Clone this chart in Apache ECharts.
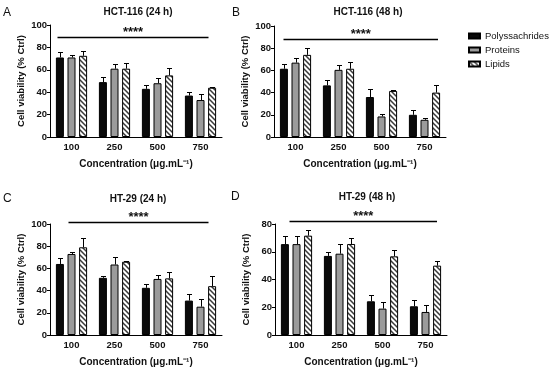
<!DOCTYPE html>
<html><head><meta charset="utf-8">
<script src="https://cdn.jsdelivr.net/npm/echarts@6/dist/echarts.min.js"></script>
<style>html,body{margin:0;padding:0;background:#fff}#c{width:550px;height:370px}</style>
</head><body><div id="c"></div>
<script>
// ---- data ----
const categories = ['100', '250', '500', '750'];
const seriesNames = ['Polyssachrides', 'Proteins', 'Lipids'];
const panelTitles = ['HCT-116 (24 h)', 'HCT-116 (48 h)', 'HT-29 (24 h)', 'HT-29 (48 h)'];
const panelLetters = ['A', 'B', 'C', 'D'];
const yMax = [100, 100, 100, 80];

const A_poly = [71, 49, 43, 37],      A_poly_err = [5, 4.5, 3, 3.5];
const A_prot = [71, 61, 48, 33],      A_prot_err = [2.5, 4.5, 5, 5];
const A_lip  = [72.5, 61, 55, 44],    A_lip_err  = [4.5, 5.5, 6.5, 0.5];

const B_poly = [61.5, 46.5, 36, 20],  B_poly_err = [4.5, 5, 7, 4];
const B_prot = [67, 60.5, 18.5, 15.5],B_prot_err = [4.5, 4.5, 2.5, 1.5];
const B_lip  = [74, 61.5, 41.5, 40],  B_lip_err  = [6, 6.5, 0.5, 7];

const C_poly = [64, 51.5, 42.5, 31],  C_poly_err = [5.5, 2, 3.5, 6];
const C_prot = [73, 63.5, 50.5, 25.5],C_prot_err = [2, 7, 4, 7];
const C_lip  = [79, 66, 51, 44],      C_lip_err  = [8.5, 1, 5.5, 9];

const D_poly = [65.5, 57, 24.3, 20.7],D_poly_err = [5.5, 3, 4.8, 4.3];
const D_prot = [65.5, 58.6, 19, 16.6],D_prot_err = [6, 7, 4.8, 5.3];
const D_lip  = [71.6, 65.6, 56.7, 50],D_lip_err  = [4, 4.4, 4.8, 3];

const sigLevel = [89, 88, 102, 82];
const sigText = '****';

// ---- layout/styles ----
const FONT = '"Liberation Sans", Arial, sans-serif';
const grids = [
  {left: 50, top: 25, width: 172, height: 112},
  {left: 274, top: 26, width: 172, height: 111},
  {left: 50, top: 224, width: 172, height: 111},
  {left: 275, top: 224, width: 172, height: 111}
];
const sigOffsets = [[-14, 8], [-12, 13.5], [-3, 8], [-7, 11.5]];
const titlePos = [[133, 2], [363, 2], [133, 189], [362, 187]];
const letterPos = [[3, 7], [232, 7], [3, 193], [231, 191]];
const BAR_W = 8, BAR_STEP = 11.6;

function hatch() {
  const s = 5, cv = document.createElement('canvas');
  cv.width = s; cv.height = s;
  const g = cv.getContext('2d');
  g.fillStyle = '#fff'; g.fillRect(0, 0, s, s);
  g.strokeStyle = '#3a3a3a'; g.lineWidth = 1.5;
  g.beginPath();
  g.moveTo(-1, -1); g.lineTo(s + 1, s + 1);
  g.moveTo(-1, s - 1); g.lineTo(1, s + 1);
  g.moveTo(s - 1, -1); g.lineTo(s + 1, 1);
  g.stroke();
  return cv;
}
const hatchImg = hatch();
const barColors = ['#0a0a0a', '#9b9b9b', {image: hatchImg, repeat: 'repeat'}];

const panels = [
  [[A_poly, A_poly_err], [A_prot, A_prot_err], [A_lip, A_lip_err]],
  [[B_poly, B_poly_err], [B_prot, B_prot_err], [B_lip, B_lip_err]],
  [[C_poly, C_poly_err], [C_prot, C_prot_err], [C_lip, C_lip_err]],
  [[D_poly, D_poly_err], [D_prot, D_prot_err], [D_lip, D_lip_err]]
];

const xAxes = [], yAxes = [], series = [], titles = [];
panels.forEach((panel, p) => {
  xAxes.push({
    type: 'category', gridIndex: p, data: categories,
    name: 'Concentration (μg.mL⁻¹)', nameLocation: 'middle', nameGap: 22,
    nameTextStyle: {fontFamily: FONT, fontWeight: 'bold', fontSize: 10, color: '#111'},
    axisLine: {lineStyle: {color: '#000', width: 1}},
    axisTick: {alignWithLabel: true, length: 3, lineStyle: {color: '#000'}},
    axisLabel: {fontFamily: FONT, fontWeight: 'bold', fontSize: 9.5, color: '#111', margin: 5}
  });
  yAxes.push({
    type: 'value', gridIndex: p, min: 0, max: yMax[p], interval: 20,
    name: 'Cell viability (% Ctrl)', nameLocation: 'middle', nameGap: 24, nameRotate: 90,
    nameTextStyle: {fontFamily: FONT, fontWeight: 'bold', fontSize: 9.5, color: '#111'},
    axisLine: {show: true, lineStyle: {color: '#000', width: 1}},
    axisTick: {show: true, length: 3, lineStyle: {color: '#000'}},
    splitLine: {show: false},
    axisLabel: {fontFamily: FONT, fontWeight: 'bold', fontSize: 9.5, color: '#111', margin: 3}
  });
  titles.push({
    text: panelTitles[p], left: titlePos[p][0], top: titlePos[p][1], textAlign: 'center',
    textStyle: {fontFamily: FONT, fontWeight: 'bold', fontSize: 10, color: '#111'}
  });
  panel.forEach((pair, k) => {
    series.push({
      type: 'bar', name: seriesNames[k], xAxisIndex: p, yAxisIndex: p,
      data: pair[0], barWidth: BAR_W, barGap: '45%',
      itemStyle: {color: barColors[k], borderColor: '#000', borderWidth: 1},
      z: 2
    });
  });
  panel.forEach((pair, k) => {
    series.push({
      type: 'custom', xAxisIndex: p, yAxisIndex: p, silent: true, z: 3,
      data: pair[0].map((v, i) => [i, v, pair[1][i]]),
      renderItem: (params, api) => {
        const c = api.value(0), v = api.value(1), e = api.value(2);
        const p0 = api.coord([c, v]), p1 = api.coord([c, v + e]);
        const x = Math.round(p0[0] + (k - 1) * BAR_STEP) + 0.5;
        const yt = Math.round(p1[1]) + 0.5;
        return {type: 'group', children: [
          {type: 'line', shape: {x1: x, y1: p0[1], x2: x, y2: yt}, style: {stroke: '#000', lineWidth: 1}},
          {type: 'line', shape: {x1: x - 2.5, y1: yt, x2: x + 2.5, y2: yt}, style: {stroke: '#000', lineWidth: 1}}
        ]};
      }
    });
  });
  series.push({
    type: 'custom', xAxisIndex: p, yAxisIndex: p, silent: true, z: 4,
    data: [[0, sigLevel[p]]],
    renderItem: (params, api) => {
      const y = api.value(1);
      const a = api.coord([0, y]), b = api.coord([categories.length - 1, y]);
      const x1 = a[0] + sigOffsets[p][0], x2 = b[0] + sigOffsets[p][1];
      const yy = Math.round(a[1]) + 0.5;
      return {type: 'group', children: [
        {type: 'line', shape: {x1: x1, y1: yy, x2: x2, y2: yy}, style: {stroke: '#000', lineWidth: 1.6}},
        {type: 'text', style: {text: sigText, x: (x1 + x2) / 2, y: yy - 5, align: 'center', verticalAlign: 'middle',
          font: 'bold 13px ' + FONT, fill: '#111'}}
      ]};
    }
  });
});

const chart = echarts.init(document.getElementById('c'), null, {renderer: 'canvas'});
chart.setOption({
  animation: false,
  backgroundColor: '#fff',
  title: titles,
  grid: grids,
  xAxis: xAxes,
  yAxis: yAxes,
  legend: {
    data: seriesNames.map(n => ({name: n, icon: 'rect'})), orient: 'vertical', left: 468, top: 31,
    itemWidth: 11, itemHeight: 5, itemGap: 4, padding: 0, selectedMode: false,
    textStyle: {fontFamily: FONT, fontSize: 9.5, color: '#111'}
  },
  graphic: panelLetters.map((t, i) => ({
    type: 'text', left: letterPos[i][0], top: letterPos[i][1],
    style: {text: t, font: '12px ' + FONT, fill: '#111'}
  })),
  series: series
});
</script></body></html>
